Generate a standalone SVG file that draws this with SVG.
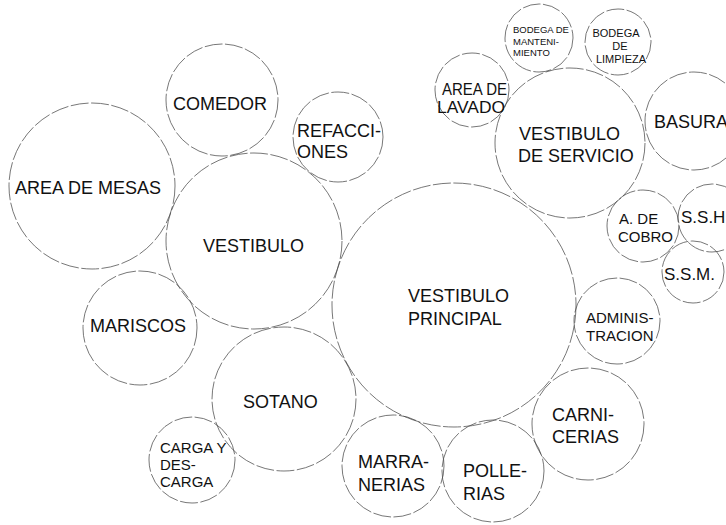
<svg xmlns="http://www.w3.org/2000/svg" width="726" height="525" viewBox="0 0 726 525">
<style>
  .b { fill: none; stroke: #4a4a4a; stroke-width: 0.75; stroke-dasharray: 18 2.5; }
  text { font-family: "Liberation Sans", Arial, sans-serif; fill: #111; font-size: 18px; }
  .m { font-size: 15px; }
  .s { font-size: 11px; }
  .xs { font-size: 9.5px; }
</style>
<rect width="726" height="525" fill="#fff"/>
<g id="connectors"/>
<g id="area-de-mesas"><circle class="b" cx="92" cy="186" r="83"/><text x="15" y="194">AREA DE MESAS</text></g>
<g id="comedor"><circle class="b" cx="222" cy="100" r="56"/><text x="173" y="110">COMEDOR</text></g>
<g id="refacciones"><circle class="b" cx="338" cy="137" r="45"/><text x="297" y="137">REFACCI-</text><text x="297" y="158">ONES</text></g>
<g id="vestibulo"><circle class="b" cx="254" cy="241" r="88"/><text x="203" y="252">VESTIBULO</text></g>
<g id="mariscos"><circle class="b" cx="140" cy="328" r="57"/><text x="90" y="332">MARISCOS</text></g>
<g id="sotano"><circle class="b" cx="284" cy="399" r="72"/><text x="243" y="408">SOTANO</text></g>
<g id="carga-y-descarga"><circle class="b" cx="192" cy="460" r="43"/><text class="m" x="160" y="453">CARGA Y</text><text class="m" x="160" y="470">DES-</text><text class="m" x="160" y="487">CARGA</text></g>
<g id="marranerias"><circle class="b" cx="393" cy="466" r="51"/><text x="358" y="468">MARRA-</text><text x="358" y="491">NERIAS</text></g>
<g id="pollerias"><circle class="b" cx="493" cy="471" r="51"/><text x="463" y="477">POLLE-</text><text x="463" y="500">RIAS</text></g>
<g id="carnicerias"><circle class="b" cx="588" cy="424" r="56"/><text x="552" y="421">CARNI-</text><text x="552" y="443">CERIAS</text></g>
<g id="administracion"><circle class="b" cx="617" cy="321" r="43"/><text class="m" x="586" y="323">ADMINIS-</text><text class="m" x="586" y="341">TRACION</text></g>
<g id="vestibulo-principal"><circle class="b" cx="454" cy="305" r="122"/><text x="408" y="302">VESTIBULO</text><text x="408" y="325">PRINCIPAL</text></g>
<g id="a-de-cobro"><circle class="b" cx="643" cy="226" r="36"/><text class="m" x="619" y="224">A. DE</text><text class="m" x="618" y="242">COBRO</text></g>
<g id="ssh"><circle class="b" cx="712" cy="218" r="34"/><text style="font-size:17px" x="681" y="223">S.S.H.</text></g>
<g id="ssm"><circle class="b" cx="693" cy="272" r="31"/><text style="font-size:17px" x="664" y="280">S.S.M.</text></g>
<g id="vestibulo-de-servicio"><circle class="b" cx="570" cy="143" r="75"/><text x="519" y="140">VESTIBULO</text><text x="518" y="162">DE SERVICIO</text></g>
<g id="area-de-lavado"><circle class="b" cx="472" cy="90" r="37"/><text style="font-size:16px" x="442" y="95" textLength="65" lengthAdjust="spacingAndGlyphs">AREA DE</text><text style="font-size:16px" x="437" y="113" textLength="68" lengthAdjust="spacingAndGlyphs">LAVADO</text></g>
<g id="bodega-de-mantenimiento"><circle class="b" cx="539" cy="38" r="34"/><text class="xs" x="513" y="33">BODEGA DE</text><text class="xs" x="513" y="44.5">MANTENI-</text><text class="xs" x="513" y="56">MIENTO</text></g>
<g id="bodega-de-limpieza"><circle class="b" cx="618" cy="42" r="33"/><text class="s" text-anchor="middle" x="616" y="37">BODEGA</text><text class="s" text-anchor="middle" x="620" y="50">DE</text><text class="s" text-anchor="middle" x="621" y="63">LIMPIEZA</text></g>
<g id="basura"><circle class="b" cx="694" cy="121" r="49"/><text x="654" y="128">BASURA</text></g>
</svg>
